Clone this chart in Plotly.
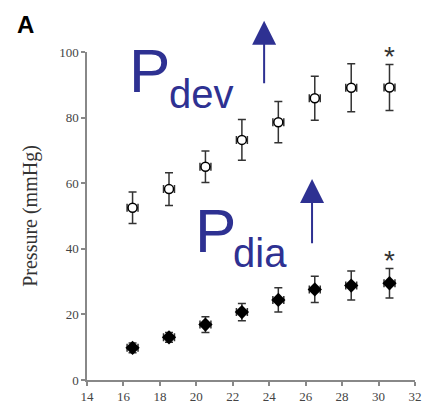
import plotly.graph_objects as go

# Data
x_vals = [16.5, 18.5, 20.5, 22.5, 24.5, 26.5, 28.5, 30.6]
x_err = [0.3, 0.3, 0.3, 0.3, 0.3, 0.3, 0.3, 0.3]
p_dev = [52.5, 58.2, 65.0, 73.2, 78.6, 85.9, 89.1, 89.2]
p_dev_err = [4.8, 5.0, 4.8, 6.2, 6.3, 6.7, 7.3, 7.0]
p_dia = [9.8, 13.0, 16.9, 20.7, 24.4, 27.6, 28.8, 29.5]
p_dia_err = [1.5, 1.5, 2.4, 2.6, 3.7, 4.0, 4.4, 4.5]
x_ticks = [14, 16, 18, 20, 22, 24, 26, 28, 30, 32]
y_ticks = [0, 20, 40, 60, 80, 100]

blue = "#2E3192"
err_color = "#333333"

fig = go.Figure()
fig.add_trace(go.Scatter(
    x=x_vals, y=p_dev, mode="markers",
    marker=dict(symbol="circle", size=9, color="white", line=dict(color="black", width=1.5)),
    error_y=dict(type="data", array=p_dev_err, color=err_color, thickness=1.5, width=4),
    error_x=dict(type="data", array=x_err, color=err_color, thickness=1.5, width=4),
    showlegend=False, cliponaxis=False,
))
fig.add_trace(go.Scatter(
    x=x_vals, y=p_dia, mode="markers",
    marker=dict(symbol="diamond", size=11, color="black", line=dict(color="black", width=0)),
    error_y=dict(type="data", array=p_dia_err, color=err_color, thickness=1.5, width=4),
    error_x=dict(type="data", array=x_err, color=err_color, thickness=1.5, width=4),
    showlegend=False, cliponaxis=False,
))

annotations = [
    dict(text="<b>A</b>", x=-0.186, y=1.085, xref="paper", yref="paper",
         showarrow=False, font=dict(family="Liberation Sans", size=24, color="black"),
         xanchor="center", yanchor="middle"),
    dict(text="P", x=16.2, y=94.5, xref="x", yref="y", showarrow=False,
         font=dict(family="Liberation Sans", size=62, color=blue), xanchor="left", yanchor="middle"),
    dict(text="dev", x=18.39, y=87.2, xref="x", yref="y", showarrow=False,
         font=dict(family="Liberation Sans", size=40, color=blue), xanchor="left", yanchor="middle"),
    dict(text="P", x=19.82, y=45.7, xref="x", yref="y", showarrow=False,
         font=dict(family="Liberation Sans", size=62, color=blue), xanchor="left", yanchor="middle"),
    dict(text="dia", x=21.9, y=38.7, xref="x", yref="y", showarrow=False,
         font=dict(family="Liberation Sans", size=40, color=blue), xanchor="left", yanchor="middle"),
    dict(text="*", x=30.6, y=98.5, xref="x", yref="y", showarrow=False,
         font=dict(family="Liberation Sans", size=28, color=err_color), xanchor="center", yanchor="middle"),
    dict(text="*", x=30.6, y=36.3, xref="x", yref="y", showarrow=False,
         font=dict(family="Liberation Sans", size=28, color=err_color), xanchor="center", yanchor="middle"),
    dict(text="", x=23.72, y=109.5, ax=23.72, ay=90.0, xref="x", yref="y", axref="x", ayref="y",
         showarrow=True, arrowhead=2, arrowsize=2.4, arrowwidth=2, arrowcolor=blue),
    dict(text="", x=26.35, y=61.3, ax=26.35, ay=41.2, xref="x", yref="y", axref="x", ayref="y",
         showarrow=True, arrowhead=2, arrowsize=2.4, arrowwidth=2, arrowcolor=blue),
]

axis_common = dict(
    showline=True, linecolor="#888888", linewidth=1.5,
    ticks="outside", ticklen=4, tickcolor="#888888", tickwidth=1.5,
    showgrid=False, zeroline=False, automargin=False,
    ticklabeloverflow="allow",
    tickfont=dict(family="Liberation Serif", size=13, color="#444444"),
)

fig.update_layout(
    width=423, height=407,
    margin=dict(l=87, r=8, t=52, b=27),
    paper_bgcolor="white", plot_bgcolor="white",
    xaxis=dict(range=[14, 32], tickvals=x_ticks, **axis_common),
    yaxis=dict(range=[0, 100], tickvals=y_ticks,
               title=dict(text="Pressure (mmHg)", standoff=16,
                          font=dict(family="Liberation Serif", size=20, color="#333333")),
               **axis_common),
    annotations=annotations,
)

# remove the browser's default 8px body margin so the figure fills the window exactly
fig.write_html(
    "out.html",
    config={"displayModeBar": False},
    post_script="document.body.style.margin='0';document.body.style.overflow='hidden';",
)
